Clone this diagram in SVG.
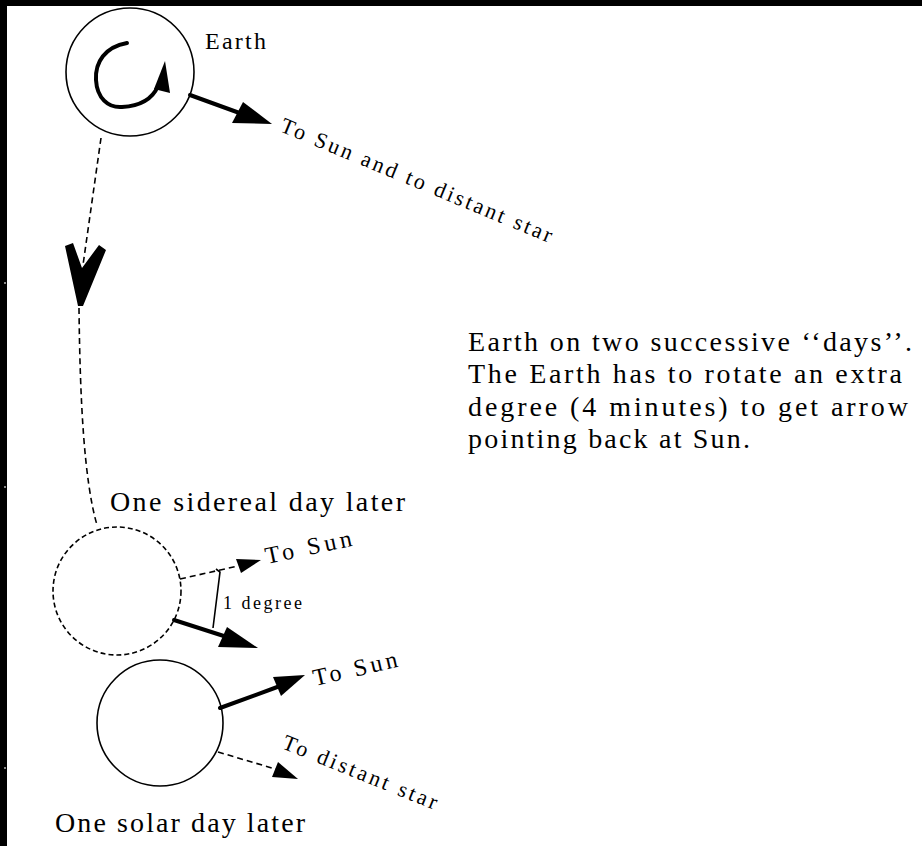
<svg xmlns="http://www.w3.org/2000/svg" width="922" height="846" viewBox="0 0 922 846">
<style>
  text { font-family: "Liberation Serif", "Times New Roman", serif; fill: #000; }
  .orb { fill: none; stroke: #000; stroke-width: 1.6; }
  .orb-dash { fill: none; stroke: #000; stroke-width: 1.6; stroke-dasharray: 5 3; }
  .thick { fill: none; stroke: #000; stroke-width: 4; stroke-linecap: round; }
  .dash { fill: none; stroke: #000; stroke-width: 1.6; stroke-dasharray: 6 4; }
  .thin { fill: none; stroke: #000; stroke-width: 1.6; }
  .head { fill: #000; stroke: none; }
  .big { font-size: 28px; }
  .mid { font-size: 22px; }
  .sun { font-size: 24px; }
  .lbl { font-size: 24px; }
  .small { font-size: 18px; }
</style>
<rect x="0" y="0" width="922" height="846" fill="#fff"/>
<rect x="0" y="0" width="922" height="6" fill="#000"/>
<rect x="0" y="0" width="7" height="846" fill="#000"/>
<rect x="4" y="282" width="2" height="2" fill="#888"/>
<rect x="4" y="486" width="2" height="2" fill="#888"/>
<rect x="4" y="767" width="2" height="2" fill="#888"/>

<g id="earth-start">
  <circle class="orb" cx="130" cy="72" r="64"/>
  <path class="thick" stroke-width="3.2" d="M127,43 C105,47 95,62 96,80 C97,98 108,108 122,107 C140,106 152,100 158,86"/>
  <polygon class="head" points="165,61 154,89 170,93"/>
  <text class="lbl" x="205" y="49" textLength="61" lengthAdjust="spacing">Earth</text>
</g>

<g id="earth-sidereal">
  <circle class="orb-dash" cx="117" cy="591" r="64"/>
  <text class="big" x="110" y="511" textLength="295" lengthAdjust="spacing">One sidereal day later</text>
</g>

<g id="earth-solar">
  <circle class="orb" cx="160" cy="723" r="63"/>
  <text class="big" x="55" y="832" textLength="250" lengthAdjust="spacing">One solar day later</text>
</g>

<g id="connectors">
  <!-- start: to sun and distant star -->
  <line class="thick" x1="190" y1="95" x2="245" y2="115"/>
  <polygon class="head" points="272,124 243,102 232,123"/>
  <!-- orbit path -->
  <path class="dash" d="M101,138 L83,265"/>
  <polygon class="head" points="65,246 73,243 82,268 99,245 106,250 83,306 78,306"/>
  <path class="dash" d="M79,308 C80,400 84,480 97,525"/>
  <!-- sidereal: to sun (dashed) -->
  <path class="dash" d="M180,579 L238,566"/>
  <polygon class="head" points="261,560 236,559 241,573"/>
  <!-- sidereal: 1 degree marker -->
  <path class="thin" d="M216,569 L220,572 L213,628"/>
  <!-- sidereal: rotated arrow -->
  <line class="thick" x1="174" y1="620" x2="230" y2="638"/>
  <polygon class="head" points="258,648 227,627 218,647"/>
  <!-- solar: to sun -->
  <line class="thick" x1="220" y1="708" x2="280" y2="686"/>
  <polygon class="head" points="305,675 273,677 281,696"/>
  <!-- solar: to distant star (dashed) -->
  <path class="dash" d="M218,752 L282,771"/>
  <polygon class="head" points="298,779 278,762 272,777"/>
</g>

<g id="labels">
  <text class="mid" transform="translate(279,131) rotate(22.5)" textLength="292" lengthAdjust="spacing">To Sun and to distant star</text>
  <text class="sun" transform="translate(267,564) rotate(-12)" textLength="88" lengthAdjust="spacing">To Sun</text>
  <text class="small" x="223" y="609" textLength="79" lengthAdjust="spacing">1 degree</text>
  <text class="sun" transform="translate(315,686) rotate(-13)" textLength="86" lengthAdjust="spacing">To Sun</text>
  <text class="mid" transform="translate(281,748) rotate(22)" textLength="165" lengthAdjust="spacing">To distant star</text>
</g>

<g id="caption">
  <text class="big" x="468" y="351" textLength="444" lengthAdjust="spacing">Earth on two successive ‘‘days’’.</text>
  <text class="big" x="468" y="383" textLength="434" lengthAdjust="spacing">The Earth has to rotate an extra</text>
  <text class="big" x="468" y="416" textLength="440" lengthAdjust="spacing">degree (4 minutes) to get arrow</text>
  <text class="big" x="468" y="448" textLength="282" lengthAdjust="spacing">pointing back at Sun.</text>
</g>
</svg>
